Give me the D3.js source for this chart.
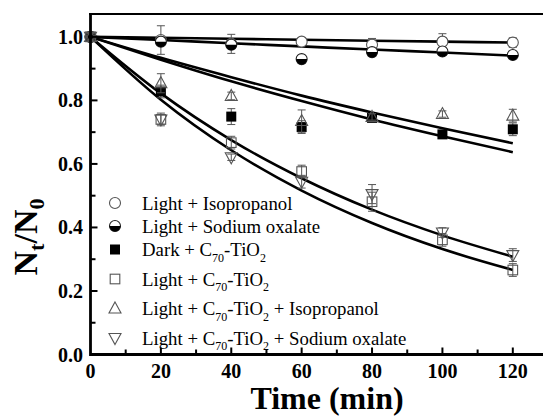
<!DOCTYPE html>
<html><head><meta charset="utf-8">
<script src="https://cdn.jsdelivr.net/npm/d3@7"></script>
<style>body{margin:0;background:#fff}svg{display:block}
svg text{font-family:"Liberation Serif","Tinos","Times New Roman","DejaVu Serif",serif;}</style>
</head><body>
<script>
const times = [0, 20, 40, 60, 80, 100, 120];
const xTicks = [0, 20, 40, 60, 80, 100, 120];
const yTicks = [0.0, 0.2, 0.4, 0.6, 0.8, 1.0];

const isoVals   = [1.0, 0.990, 0.978, 0.985, 0.975, 0.985, 0.982];
const isoErr    = [0.012, 0.045, 0.030, 0.008, 0.020, 0.025, 0.015];
const oxaVals   = [1.0, 0.985, 0.975, 0.930, 0.952, 0.954, 0.943];
const oxaErr    = [0.010, 0.010, 0.010, 0.010, 0.010, 0.010, 0.010];
const darkVals  = [1.0, 0.828, 0.749, 0.716, 0.745, 0.693, 0.709];
const darkErr   = [0.010, 0.020, 0.025, 0.020, 0.010, 0.010, 0.020];
const lightVals = [1.0, 0.740, 0.667, 0.576, 0.481, 0.361, 0.266];
const lightErr  = [0.010, 0.015, 0.020, 0.020, 0.030, 0.020, 0.020];
const triUpVals = [1.0, 0.854, 0.814, 0.735, 0.748, 0.757, 0.752];
const triUpErr  = [0.010, 0.030, 0.012, 0.035, 0.010, 0.010, 0.020];
const triDnVals = [1.0, 0.740, 0.621, 0.544, 0.505, 0.384, 0.313];
const triDnErr  = [0.010, 0.020, 0.010, 0.020, 0.030, 0.015, 0.020];

const fitIso   = [1.0, 0.997, 0.994, 0.991, 0.988, 0.985, 0.982];
const fitOxa   = [1.0, 0.990, 0.980, 0.970, 0.960, 0.951, 0.941];
const fitTriUp = [1.0, 0.934, 0.873, 0.815, 0.762, 0.712, 0.665];
const fitDark  = [1.0, 0.928, 0.860, 0.798, 0.740, 0.687, 0.637];
const fitTriDn = [1.0, 0.822, 0.675, 0.555, 0.456, 0.375, 0.308];
const fitLight = [1.0, 0.802, 0.643, 0.516, 0.414, 0.332, 0.266];

const W = 543, H = 416;
const svg = d3.select("body").append("svg").attr("width", W).attr("height", H);
const x = d3.scaleLinear().domain([0, 130]).range([90.5, 548]);
const y = d3.scaleLinear().domain([0, 1.072]).range([354.5, 14]);

// fits
const fits = [fitIso, fitOxa, fitTriUp, fitDark, fitTriDn, fitLight];
const line = d3.line().x((d, i) => x(times[i])).y(d => y(d)).curve(d3.curveMonotoneX);
fits.forEach(f => svg.append("path").attr("d", line(f)).attr("fill", "none")
  .attr("stroke", "#000").attr("stroke-width", 2.6));

const series = [
  {vals: isoVals, err: isoErr, sym: "circle"},
  {vals: oxaVals, err: oxaErr, sym: "half"},
  {vals: darkVals, err: darkErr, sym: "fsquare"},
  {vals: lightVals, err: lightErr, sym: "square"},
  {vals: triUpVals, err: triUpErr, sym: "up"},
  {vals: triDnVals, err: triDnErr, sym: "down"}
];
const grey = "#555";
function drawSym(g, sym, cx, cy) {
  if (sym === "circle") {
    g.append("circle").attr("cx", cx).attr("cy", cy).attr("r", 5.5).attr("fill", "#fff").attr("stroke", grey).attr("stroke-width", 1.1);
  } else if (sym === "half") {
    g.append("circle").attr("cx", cx).attr("cy", cy).attr("r", 5.5).attr("fill", "#fff").attr("stroke", "#222").attr("stroke-width", 1.1);
    g.append("path").attr("d", `M${cx-5.5},${cy} A5.5,5.5 0 0,0 ${cx+5.5},${cy} Z`).attr("fill", "#000");
  } else if (sym === "fsquare") {
    g.append("rect").attr("x", cx-5).attr("y", cy-5).attr("width", 10).attr("height", 10).attr("fill", "#000");
  } else if (sym === "square") {
    g.append("rect").attr("x", cx-4.8).attr("y", cy-4.8).attr("width", 9.6).attr("height", 9.6).attr("fill", "none").attr("stroke", grey).attr("stroke-width", 1.1);
  } else if (sym === "up") {
    g.append("path").attr("d", `M${cx},${cy-6.5} L${cx+6},${cy+4.5} L${cx-6},${cy+4.5} Z`).attr("fill", "none").attr("stroke", grey).attr("stroke-width", 1.1);
  } else if (sym === "down") {
    g.append("path").attr("d", `M${cx},${cy+6.5} L${cx+6},${cy-4.5} L${cx-6},${cy-4.5} Z`).attr("fill", "none").attr("stroke", grey).attr("stroke-width", 1.1);
  }
}
series.forEach(s => {
  const g = svg.append("g");
  s.vals.forEach((v, i) => {
    const cx = x(times[i]);
    const y1 = y(v + s.err[i]), y2 = y(v - s.err[i]);
    g.append("line").attr("x1", cx).attr("x2", cx).attr("y1", y1).attr("y2", y2).attr("stroke", grey).attr("stroke-width", 1);
    [y1, y2].forEach(yy => g.append("line").attr("x1", cx-4).attr("x2", cx+4).attr("y1", yy).attr("y2", yy).attr("stroke", grey).attr("stroke-width", 1));
    drawSym(g, s.sym, cx, y(v));
  });
});

// axes
const ax = svg.append("g");
ax.append("line").attr("x1", x(0)).attr("x2", W).attr("y1", y(0)).attr("y2", y(0)).attr("stroke", "#000").attr("stroke-width", 2.8);
ax.append("line").attr("x1", x(0)).attr("x2", x(0)).attr("y1", y(0)+1.4).attr("y2", 13).attr("stroke", "#000").attr("stroke-width", 2.8);
ax.append("line").attr("x1", x(0)-1.4).attr("x2", W).attr("y1", 14).attr("y2", 14).attr("stroke", "#000").attr("stroke-width", 2.2);

d3.range(10, 130, 10).forEach(t => {
  const major = t % 20 === 0;
  ax.append("line").attr("x1", x(t)).attr("x2", x(t)).attr("y1", y(0)).attr("y2", y(0) - (major ? 7 : 5)).attr("stroke", "#000").attr("stroke-width", 2);
});
d3.range(1, 11).map(k => k / 10).forEach(v => {
  const major = Math.round(v * 10) % 2 === 0;
  ax.append("line").attr("x1", x(0)).attr("x2", x(0) + (major ? 7 : 5)).attr("y1", y(v)).attr("y2", y(v)).attr("stroke", "#000").attr("stroke-width", 2);
});
xTicks.forEach(t => ax.append("text").attr("x", x(t)).attr("y", 378).attr("text-anchor", "middle")
  .attr("font-weight", "bold").attr("font-size", 20).text(t));
yTicks.forEach(v => ax.append("text").attr("x", 83).attr("y", y(v) + 7).attr("text-anchor", "end")
  .attr("font-weight", "bold").attr("font-size", 20).text(v.toFixed(1)));

svg.append("text").attr("x", 327).attr("y", 409).attr("text-anchor", "middle")
  .attr("font-weight", "bold").attr("font-size", 32).text("Time (min)");

const yl = svg.append("text").attr("transform", "translate(37,237) rotate(-90)").attr("text-anchor", "middle")
  .attr("font-weight", "bold").attr("font-size", 34);
yl.append("tspan").text("N");
yl.append("tspan").attr("font-size", 22).attr("dy", 7).text("t");
yl.append("tspan").attr("dy", -7).text("/N");
yl.append("tspan").attr("font-size", 22).attr("dy", 7).text("0");

// legend
const legRows = [
  {sym: "circle", parts: [["Light + Isopropanol"]], y: 203},
  {sym: "half", parts: [["Light + Sodium oxalate"]], y: 226},
  {sym: "fsquare", parts: [["Dark + C"], ["70", 1], ["-TiO"], ["2", 1]], y: 249.5},
  {sym: "square", parts: [["Light + C"], ["70", 1], ["-TiO"], ["2", 1]], y: 279},
  {sym: "up", parts: [["Light + C"], ["70", 1], ["-TiO"], ["2", 1], [" + Isopropanol"]], y: 308.5},
  {sym: "down", parts: [["Light + C"], ["70", 1], ["-TiO"], ["2", 1], [" + Sodium oxalate"]], y: 338}
];
const lg = svg.append("g");
legRows.forEach(r => {
  drawSym(lg, r.sym, 115, r.y);
  const t = lg.append("text").attr("x", 142).attr("y", r.y + 6.5).attr("font-size", 18.8);
  let sub = false;
  r.parts.forEach(p => {
    const ts = t.append("tspan").text(p[0]);
    if (p[1] && !sub) { ts.attr("font-size", 12).attr("dy", 5.5); sub = true; }
    else if (!p[1] && sub) { ts.attr("dy", -5.5); sub = false; }
  });
});
</script>
</body></html>
